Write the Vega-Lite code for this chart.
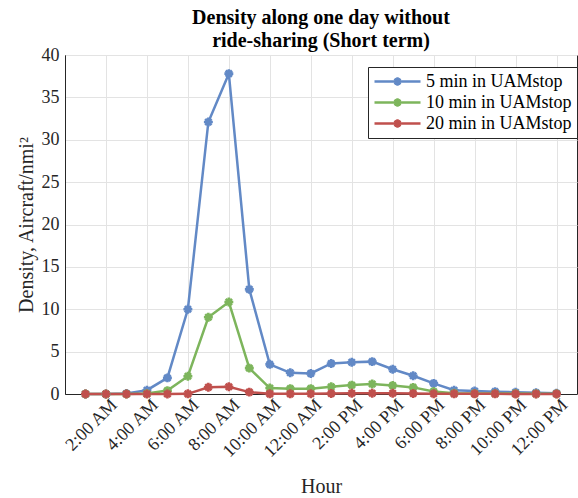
{
  "$schema": "https://vega.github.io/schema/vega-lite/v6.json",
  "width": 512,
  "height": 339,
  "autosize": {"type": "none"},
  "padding": {"left": 65, "top": 55, "right": 1, "bottom": 104},
  "title": {
    "text": ["Density along one day without", "ride-sharing (Short term)"],
    "font": "Liberation Serif",
    "fontSize": 20,
    "fontWeight": "bold",
    "color": "#000000",
    "anchor": "middle",
    "offset": -5,
    "lineHeight": 23
  },
  "config": {
    "view": {"stroke": "#262626", "strokeWidth": 1},
    "font": "Liberation Serif",
    "axis": {
      "labelFont": "Liberation Serif",
      "titleFont": "Liberation Serif",
      "labelFontSize": 18,
      "titleFontSize": 20,
      "titleFontWeight": "normal",
      "labelColor": "#262626",
      "titleColor": "#262626",
      "domainColor": "#262626",
      "tickColor": "#262626",
      "gridColor": "#e3e3e3",
      "gridWidth": 1,
      "labelOverlap": false
    }
  },
  "data": {
    "values": [
      {"hour": 1, "series": "5 min in UAMstop", "value": 0},
      {"hour": 2, "series": "5 min in UAMstop", "value": 0},
      {"hour": 3, "series": "5 min in UAMstop", "value": 0.05},
      {"hour": 4, "series": "5 min in UAMstop", "value": 0.45},
      {"hour": 5, "series": "5 min in UAMstop", "value": 1.9},
      {"hour": 6, "series": "5 min in UAMstop", "value": 10.0},
      {"hour": 7, "series": "5 min in UAMstop", "value": 32.1},
      {"hour": 8, "series": "5 min in UAMstop", "value": 37.8},
      {"hour": 9, "series": "5 min in UAMstop", "value": 12.35},
      {"hour": 10, "series": "5 min in UAMstop", "value": 3.5},
      {"hour": 11, "series": "5 min in UAMstop", "value": 2.5},
      {"hour": 12, "series": "5 min in UAMstop", "value": 2.42},
      {"hour": 13, "series": "5 min in UAMstop", "value": 3.6},
      {"hour": 14, "series": "5 min in UAMstop", "value": 3.74},
      {"hour": 15, "series": "5 min in UAMstop", "value": 3.82},
      {"hour": 16, "series": "5 min in UAMstop", "value": 2.92},
      {"hour": 17, "series": "5 min in UAMstop", "value": 2.15},
      {"hour": 18, "series": "5 min in UAMstop", "value": 1.25},
      {"hour": 19, "series": "5 min in UAMstop", "value": 0.45},
      {"hour": 20, "series": "5 min in UAMstop", "value": 0.35},
      {"hour": 21, "series": "5 min in UAMstop", "value": 0.28},
      {"hour": 22, "series": "5 min in UAMstop", "value": 0.2},
      {"hour": 23, "series": "5 min in UAMstop", "value": 0.15},
      {"hour": 24, "series": "5 min in UAMstop", "value": 0.08},
      {"hour": 1, "series": "10 min in UAMstop", "value": 0},
      {"hour": 2, "series": "10 min in UAMstop", "value": 0},
      {"hour": 3, "series": "10 min in UAMstop", "value": 0},
      {"hour": 4, "series": "10 min in UAMstop", "value": 0.05},
      {"hour": 5, "series": "10 min in UAMstop", "value": 0.4},
      {"hour": 6, "series": "10 min in UAMstop", "value": 2.1},
      {"hour": 7, "series": "10 min in UAMstop", "value": 9.05},
      {"hour": 8, "series": "10 min in UAMstop", "value": 10.85},
      {"hour": 9, "series": "10 min in UAMstop", "value": 3.05},
      {"hour": 10, "series": "10 min in UAMstop", "value": 0.7},
      {"hour": 11, "series": "10 min in UAMstop", "value": 0.63},
      {"hour": 12, "series": "10 min in UAMstop", "value": 0.63},
      {"hour": 13, "series": "10 min in UAMstop", "value": 0.85},
      {"hour": 14, "series": "10 min in UAMstop", "value": 1.05},
      {"hour": 15, "series": "10 min in UAMstop", "value": 1.18},
      {"hour": 16, "series": "10 min in UAMstop", "value": 1.0},
      {"hour": 17, "series": "10 min in UAMstop", "value": 0.78},
      {"hour": 18, "series": "10 min in UAMstop", "value": 0.3},
      {"hour": 19, "series": "10 min in UAMstop", "value": 0.1},
      {"hour": 20, "series": "10 min in UAMstop", "value": 0.07},
      {"hour": 21, "series": "10 min in UAMstop", "value": 0.05},
      {"hour": 22, "series": "10 min in UAMstop", "value": 0.05},
      {"hour": 23, "series": "10 min in UAMstop", "value": 0.04},
      {"hour": 24, "series": "10 min in UAMstop", "value": 0.03},
      {"hour": 1, "series": "20 min in UAMstop", "value": 0},
      {"hour": 2, "series": "20 min in UAMstop", "value": 0},
      {"hour": 3, "series": "20 min in UAMstop", "value": 0},
      {"hour": 4, "series": "20 min in UAMstop", "value": 0},
      {"hour": 5, "series": "20 min in UAMstop", "value": 0},
      {"hour": 6, "series": "20 min in UAMstop", "value": 0.02},
      {"hour": 7, "series": "20 min in UAMstop", "value": 0.8},
      {"hour": 8, "series": "20 min in UAMstop", "value": 0.85},
      {"hour": 9, "series": "20 min in UAMstop", "value": 0.22},
      {"hour": 10, "series": "20 min in UAMstop", "value": 0.02},
      {"hour": 11, "series": "20 min in UAMstop", "value": 0.02},
      {"hour": 12, "series": "20 min in UAMstop", "value": 0.03},
      {"hour": 13, "series": "20 min in UAMstop", "value": 0.06},
      {"hour": 14, "series": "20 min in UAMstop", "value": 0.08},
      {"hour": 15, "series": "20 min in UAMstop", "value": 0.09},
      {"hour": 16, "series": "20 min in UAMstop", "value": 0.08},
      {"hour": 17, "series": "20 min in UAMstop", "value": 0.06},
      {"hour": 18, "series": "20 min in UAMstop", "value": 0.03},
      {"hour": 19, "series": "20 min in UAMstop", "value": 0.02},
      {"hour": 20, "series": "20 min in UAMstop", "value": 0.02},
      {"hour": 21, "series": "20 min in UAMstop", "value": 0.02},
      {"hour": 22, "series": "20 min in UAMstop", "value": 0.01},
      {"hour": 23, "series": "20 min in UAMstop", "value": 0.01},
      {"hour": 24, "series": "20 min in UAMstop", "value": 0.01}
    ]
  },
  "layer": [
    {
      "mark": {"type": "line", "strokeWidth": 2.5},
      "encoding": {
        "x": {
          "field": "hour",
          "type": "quantitative",
          "title": "Hour",
          "scale": {"domain": [0, 25], "nice": false, "zero": false},
          "axis": {
            "values": [2, 4, 6, 8, 10, 12, 14, 16, 18, 20, 22, 24],
            "labelAngle": -45,
            "labelAlign": "right",
            "labelBaseline": "middle",
            "labelExpr": "datum.value == 12 ? '12:00 AM' : datum.value == 24 ? '12:00 PM' : datum.value < 12 ? datum.value + ':00 AM' : (datum.value - 12) + ':00 PM'",
            "tickSize": 0,
            "labelPadding": 8,
            "labelOffset": 8,
            "titlePadding": 15,
            "grid": true
          }
        },
        "y": {
          "field": "value",
          "type": "quantitative",
          "title": "Density, Aircraft/nmi²",
          "scale": {"domain": [0, 40], "nice": false},
          "axis": {
            "values": [0, 5, 10, 15, 20, 25, 30, 35, 40],
            "tickSize": 0,
            "labelPadding": 6,
            "titlePadding": 5,
            "grid": true
          }
        },
        "color": {
          "field": "series",
          "type": "nominal",
          "sort": ["5 min in UAMstop", "10 min in UAMstop", "20 min in UAMstop"],
          "scale": {
            "domain": ["5 min in UAMstop", "10 min in UAMstop", "20 min in UAMstop"],
            "range": ["#6289c6", "#7db55c", "#c0504d"]
          },
          "legend": {
            "title": null,
            "orient": "none",
            "legendX": 303,
            "legendY": 12,
            "labelFont": "Liberation Serif",
            "labelFontSize": 18,
            "labelColor": "#000000",
            "strokeColor": "#262626",
            "fillColor": "#ffffff",
            "padding": 5,
            "rowPadding": 2,
            "clipHeight": 19,
            "symbolType": "M-1,0L1,0M0,-0.18L0,0.18M-0.13,-0.13L0.13,0.13M-0.13,0.13L0.13,-0.13M-0.18,0L0.18,0",
            "symbolSize": 2116,
            "symbolStrokeWidth": 2.5,
            "labelOffset": 4
          }
        }
      }
    },
    {
      "mark": {"type": "point", "filled": false, "strokeWidth": 2.6, "opacity": 1, "shape": "M-1,0L1,0M0,-1L0,1M-0.7,-0.7L0.7,0.7M-0.7,0.7L0.7,-0.7"},
      "encoding": {
        "x": {"field": "hour", "type": "quantitative"},
        "y": {"field": "value", "type": "quantitative"},
        "size": {"value": 80},
        "color": {"field": "series", "type": "nominal", "legend": null}
      }
    }
  ]
}
